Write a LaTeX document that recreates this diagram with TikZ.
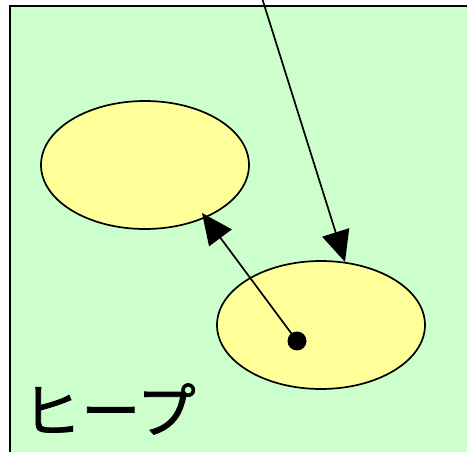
\documentclass[tikz,border=0pt]{standalone}
\usepackage{fontspec}
\newfontfamily\jpfont[FakeBold=1.2]{Noto Sans CJK JP}
\usetikzlibrary{shapes.geometric,arrows.meta}
\definecolor{heapgreen}{HTML}{CCFFCC}
\definecolor{objyellow}{HTML}{FFFF99}
\tikzset{
  obj/.style={ellipse, draw=black, line width=1.7pt, fill=objyellow, minimum width=208pt, minimum height=128pt, inner sep=0pt},
  ref/.style={line width=1.7pt, -{Triangle[length=31pt,width=28pt]}},
  dotnode/.style={circle, fill=black, minimum size=19pt, inner sep=0pt}
}
\begin{document}
\begin{tikzpicture}[x=1pt,y=-1pt]
\useasboundingbox (0,0) rectangle (467,452);
\fill[white] (0,0) rectangle (467,452);
\draw[line width=2.2pt, fill=heapgreen] (10,6) rectangle (480,470);
\node[obj] (e1) at (145,165) {};
\node[obj] (e2) at (321,325) {};
\node[dotnode] (dot) at (297,341) {};
\coordinate (src) at (262,-2);
\coordinate (tip1) at (345,262);
\coordinate (tip2) at (202,213);
\draw[ref] (src) -- (tip1);
\draw[ref] (dot.center) -- (tip2);
\node[font=\jpfont\fontsize{59}{64}\selectfont, anchor=center, inner sep=0pt] (label) at (109,409) {ヒープ};
\end{tikzpicture}
\end{document}
